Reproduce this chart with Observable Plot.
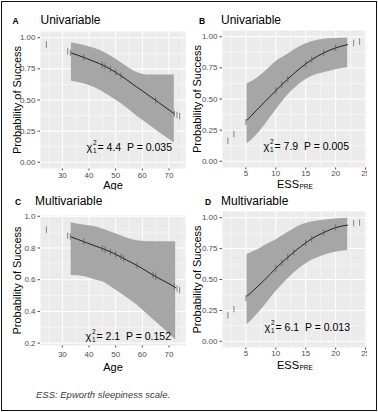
<!DOCTYPE html>
<html><head><meta charset="utf-8">
<script src="https://cdn.jsdelivr.net/npm/d3@7"></script>
<script src="https://cdn.jsdelivr.net/npm/@observablehq/plot@0.6"></script>
<style>
body{margin:0;background:#fff;}
#wrap{position:relative;width:378px;height:412px;overflow:hidden;background:#fff;font-family:"Liberation Sans",Arial,sans-serif;}
.abs{position:absolute;line-height:1;white-space:nowrap;color:#000;}
.frameBorder{position:absolute;left:1px;top:1px;width:376px;height:410px;box-sizing:border-box;border:1px solid #111;pointer-events:none;}
.pan{position:absolute;}
</style></head><body><div id="wrap"></div>
<script>
// ---- tick values ----
const ageTicks=[30,40,50,60,70];
const ageMinor=[25,35,45,55,65,75];
const essTicks=[5,10,15,20,25];
const essMinor=[2.5,7.5,12.5,17.5,22.5];
const probTicks=[0,0.25,0.5,0.75,1];
const probMinor=[0.125,0.375,0.625,0.875];
const probTicksC=[0.2,0.4,0.6,0.8,1.0];
const probMinorC=[0.3,0.5,0.7,0.9];

// ---- panel text ----
const letters=["A","B","C","D"];
const titles=["Univariable","Univariable","Multivariable","Multivariable"];
const chiValues=[4.4,7.9,2.1,6.1];
const pValues=["0.035","0.005","0.152","0.013"];
const yTitle="Probability of Success";
const caption="ESS: Epworth sleepiness scale.";

// ---- A: univariable, age ----
const aAge=[33.4,38,42,46,50,54,58,62,66,70,72];
const aFit=[0.877,0.842,0.808,0.772,0.722,0.665,0.603,0.543,0.482,0.42,0.39];
const aLo=[0.65,0.63,0.60,0.555,0.50,0.44,0.37,0.31,0.245,0.185,0.155];
const aHi=[0.96,0.94,0.915,0.88,0.83,0.77,0.72,0.70,0.70,0.70,0.70];
const aRugX=[24,32,33,38,45,46,48,50,52,65,72,73,74];
const aRugY=[0.945,0.89,0.88,0.842,0.781,0.772,0.747,0.722,0.694,0.497,0.39,0.38,0.37];

// ---- B: univariable, ESS ----
const bEss=[5.2,6,7,8,10,12,14,16,18,20,22];
const bFit=[0.33,0.37,0.42,0.47,0.567,0.66,0.745,0.815,0.87,0.91,0.937];
const bLo=[0.14,0.17,0.22,0.28,0.41,0.53,0.62,0.68,0.71,0.735,0.75];
const bHi=[0.62,0.64,0.67,0.71,0.80,0.86,0.92,0.96,0.98,0.985,0.99];
const bRugX=[2,3,5,10,11,12,15,16,18,20,23,24];
const bRugY=[0.165,0.22,0.315,0.567,0.615,0.66,0.78,0.815,0.87,0.91,0.95,0.96];

// ---- C: multivariable, age ----
const cAge=[33.3,38,42,46,50,54,58,62,66,70,72.5];
const cFit=[0.87,0.84,0.815,0.79,0.76,0.725,0.69,0.65,0.61,0.575,0.55];
const cLo=[0.627,0.62,0.60,0.58,0.535,0.49,0.44,0.38,0.32,0.26,0.22];
const cHi=[0.96,0.945,0.935,0.915,0.89,0.865,0.845,0.84,0.84,0.84,0.84];
const cRugX=[24,32,33,38,45,46,48,50,52,53,58,64,65,72,73,74];
const cRugY=[0.915,0.877,0.872,0.84,0.797,0.79,0.775,0.76,0.743,0.734,0.69,0.63,0.62,0.555,0.545,0.535];

// ---- D: multivariable, ESS ----
const dEss=[5.2,6,7,8,10,12,14,16,18,20,22];
const dFit=[0.365,0.40,0.445,0.49,0.59,0.68,0.76,0.83,0.88,0.92,0.94];
const dLo=[0.135,0.17,0.225,0.28,0.40,0.505,0.59,0.655,0.695,0.72,0.735];
const dHi=[0.70,0.72,0.74,0.77,0.82,0.88,0.935,0.965,0.98,0.99,0.995];
const dRugX=[2,3,5,10,11,12,13,15,16,18,20,23,24];
const dRugY=[0.21,0.26,0.35,0.59,0.635,0.68,0.72,0.795,0.83,0.88,0.92,0.955,0.96];

const FONT='"Liberation Sans",Arial,sans-serif';
const tickSym={draw(ctx,size){const r=Math.sqrt(size/Math.PI);ctx.moveTo(0,-r);ctx.lineTo(0,r);}};

function panel(o){
  const idx=d3.range(o.x.length), rIdx=d3.range(o.rugX.length);
  const T=(t,opt)=>Plot.text([t],Object.assign({text:d=>d,fill:"#000",fontFamily:FONT,textAnchor:"middle",lineAnchor:"middle"},opt));
  const xTitleMarks = o.ess
    ? [T("ESS",{frameAnchor:"bottom",dy:o.xly,dx:-6.5,fontSize:11}),
       T("PRE",{frameAnchor:"bottom",dy:o.xly+3,dx:5,fontSize:6.5,textAnchor:"start"})]
    : [T("Age",{frameAnchor:"bottom",dy:o.xly,fontSize:11})];
  return Plot.plot({
    width:o.w,height:190,
    marginLeft:o.ml,marginRight:o.mr,marginTop:o.mt,marginBottom:o.mb,
    style:{background:"transparent",fontFamily:FONT,fontSize:"8px",color:"#4d4d4d",overflow:"hidden"},
    x:{domain:o.xd,ticks:o.xt,tickSize:2.5,tickPadding:o.xpad,label:null},
    y:{domain:o.yd,ticks:o.yt,tickSize:2.5,tickPadding:2.5,tickFormat:d3.format(o.yf),label:null},
    marks:[
      Plot.frame({fill:"#ebebeb",stroke:"none"}),
      Plot.ruleX(o.xm,{stroke:"#fff",strokeWidth:0.5}),
      Plot.ruleY(o.ym,{stroke:"#fff",strokeWidth:0.5}),
      Plot.ruleX(o.xt.filter(v=>v>=o.xd[0]&&v<=o.xd[1]),{stroke:"#fff",strokeWidth:1}),
      Plot.ruleY(o.yt.filter(v=>v>=o.yd[0]&&v<=o.yd[1]),{stroke:"#fff",strokeWidth:1}),
      Plot.areaY(idx,{x:i=>o.x[i],y1:i=>o.lo[i],y2:i=>o.hi[i],fill:"#a6a6a6",curve:"monotone-x"}),
      Plot.line(idx,{x:i=>o.x[i],y:i=>o.fit[i],stroke:"#000",strokeWidth:0.8,curve:"monotone-x"}),
      Plot.dot(rIdx,{x:i=>o.rugX[i],y:i=>o.rugY[i],symbol:tickSym,r:3.2,stroke:"#555",strokeWidth:0.7,fill:"none"}),
      T("\u03c7",{frameAnchor:"bottom-left",dx:o.ax,dy:o.ay,textAnchor:"start",fontSize:11}),
      T("2",{frameAnchor:"bottom-left",dx:o.ax+6.5,dy:o.ay-4.5,textAnchor:"start",fontSize:6.5}),
      T("1",{frameAnchor:"bottom-left",dx:o.ax+6.5,dy:o.ay+3.5,textAnchor:"start",fontSize:6.5}),
      T(`= ${o.chi}  P = ${o.p}`,{frameAnchor:"bottom-left",dx:o.ax+11,dy:o.ay,textAnchor:"start",fontSize:10.5}),
      T(yTitle,{frameAnchor:"left",rotate:-90,dx:o.ylx,fontSize:11}),
      ...xTitleMarks
    ]
  });
}

const wrap=document.getElementById("wrap");
function place(node,left,top){const d=document.createElement("div");d.className="pan";d.style.left=left+"px";d.style.top=top+"px";d.appendChild(node);wrap.appendChild(d);}
function label(text,left,top,size,extra){const d=document.createElement("div");d.className="abs";d.textContent=text;d.style.left=left+"px";d.style.top=top+"px";d.style.fontSize=size+"px";if(extra)Object.assign(d.style,extra);wrap.appendChild(d);}

place(panel({w:188,ml:40,mr:3,mt:31,mb:22,xd:[21.8,76.2],xt:ageTicks,xm:ageMinor,xpad:1.2,
  yd:[-0.05,1.05],yt:probTicks,ym:probMinor,yf:".2f",
  x:aAge,fit:aFit,lo:aLo,hi:aHi,rugX:aRugX,rugY:aRugY,
  chi:chiValues[0],p:pValues[0],ax:46,ay:-21,ylx:-23,xly:16.5,ess:false}),0,0);

place(panel({w:179,ml:34,mr:1,mt:30,mb:23,xd:[1.1,25.15],xt:essTicks,xm:essMinor,xpad:0.7,
  yd:[-0.05,1.05],yt:probTicks,ym:probMinor,yf:".2f",
  x:bEss,fit:bFit,lo:bLo,hi:bHi,rugX:bRugX,rugY:bRugY,
  chi:chiValues[1],p:pValues[1],ax:41,ay:-21,ylx:-25,xly:16.5,ess:true}),188,0);

place(panel({w:188,ml:40,mr:3,mt:25,mb:35,xd:[21.8,76.2],xt:ageTicks,xm:ageMinor,xpad:3.2,
  yd:[0.185,1.005],yt:probTicksC,ym:probMinorC,yf:".1f",
  x:cAge,fit:cFit,lo:cLo,hi:cHi,rugX:cRugX,rugY:cRugY,
  chi:chiValues[2],p:pValues[2],ax:45,ay:-9,ylx:-23,xly:21.5,ess:false}),0,190);

place(panel({w:179,ml:34,mr:1,mt:21,mb:33,xd:[1.1,25.15],xt:essTicks,xm:essMinor,xpad:0.7,
  yd:[-0.05,1.05],yt:probTicks,ym:probMinor,yf:".2f",
  x:dEss,fit:dFit,lo:dLo,hi:dHi,rugX:dRugX,rugY:dRugY,
  chi:chiValues[3],p:pValues[3],ax:42,ay:-20,ylx:-25,xly:17.5,ess:true}),188,190);

// panel letters and titles
const bold={fontWeight:"bold"};
label(letters[0],12.5,16.5,8.5,bold); label(titles[0],40.5,14.2,12);
label(letters[1],199,16.5,8.5,bold);  label(titles[1],221,14.2,12);
label(letters[2],15,197.5,8.5,bold);  label(titles[2],35,195.2,12);
label(letters[3],205,197.5,8.5,bold); label(titles[3],221,194.8,12);
label(caption,36,390.3,9.5,{fontStyle:"italic",color:"#3a3a48"});

const b=document.createElement("div");b.className="frameBorder";wrap.appendChild(b);
</script></body></html>
